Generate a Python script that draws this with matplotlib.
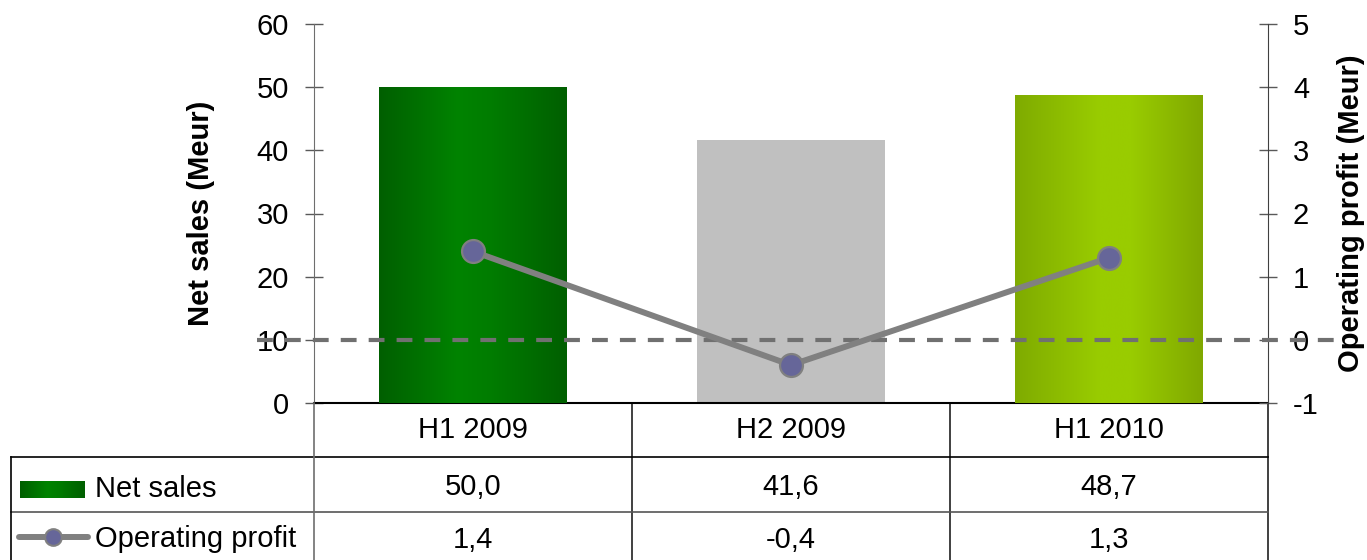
import numpy as np
import matplotlib.pyplot as plt
from matplotlib.colors import LinearSegmentedColormap
from matplotlib.lines import Line2D
from matplotlib.transforms import blended_transform_factory

periods = ['H1 2009', 'H2 2009', 'H1 2010']
net_sales = [50.0, 41.6, 48.7]
op_profit = [1.4, -0.4, 1.3]

plt.rcParams['font.family'] = ['Liberation Sans', 'DejaVu Sans']
plt.rcParams['axes.unicode_minus'] = False

W, H = 1367, 560
fig = plt.figure(figsize=(W / 100, H / 100), dpi=100)


def fx(px):
    return px / W


def fy(py):
    return 1 - py / H


def fmt(v):
    return f'{v:.1f}'.replace('.', ',')


ax = fig.add_axes([fx(314), fy(403), fx(1268) - fx(314), fy(24) - fy(403)])
ax2 = ax.twinx()

x = np.arange(len(periods))
bars = ax.bar(x, net_sales, width=0.59, color='#c0c0c0', zorder=2)

# horizontal shading for the two coloured bars
green = LinearSegmentedColormap.from_list(
    'green', [(0, '#005f00'), (0.42, '#008300'), (0.6, '#007c00'), (1, '#005f00')])
lime = LinearSegmentedColormap.from_list(
    'lime', [(0, '#7fab00'), (0.45, '#99cc00'), (0.62, '#99cc00'), (1, '#80a800')])
ramp = np.linspace(0, 1, 256).reshape(1, -1)
for bar, cmap in zip(bars, [green, None, lime]):
    if cmap is None:
        continue
    bx, by = bar.get_x(), bar.get_y()
    bw, bh = bar.get_width(), bar.get_height()
    im = ax.imshow(ramp, cmap=cmap, aspect='auto',
                   extent=[bx, bx + bw, by, by + bh], zorder=3)
    im.set_clip_path(bar)

ax.set_xlim(-0.5, 2.5)
ax.set_ylim(0, 60)
ax2.set_ylim(-1, 5)
ax.set_yticks(range(0, 61, 10))
ax2.set_yticks(range(-1, 6))
ax.set_xticks([])
ax2.set_xticks([])

for a in (ax, ax2):
    a.tick_params(axis='y', direction='inout', length=13, width=1,
                  pad=11.5, labelsize=21, color='#595959')
ax.spines['top'].set_visible(False)
ax.spines['right'].set_visible(False)
ax.spines['left'].set_color('#6e6e6e')
ax.spines['bottom'].set_color('black')
ax.spines['bottom'].set_linewidth(1.5)
for s in ('top', 'left', 'bottom'):
    ax2.spines[s].set_visible(False)
ax2.spines['right'].set_color('#404040')

ax.set_ylabel('Net sales (Meur)', fontsize=21, fontweight='bold')
ax.yaxis.set_label_coords(-0.104, 0.5)
ax2.set_ylabel('Operating profit (Meur)', fontsize=21, fontweight='bold', rotation=90)
ax2.yaxis.set_label_coords(1.072, 0.5)

# zero line of operating profit, running past both axes
ax2.axhline(0, xmin=-0.06, xmax=1.072, color='#707070', lw=3,
            dashes=(3.8, 2.9), clip_on=False, zorder=3)
ax2.plot(x, op_profit, color='#808080', lw=4.3, marker='o', ms=16.5,
         mfc='#666699', mec='#808080', mew=1.6, zorder=4, clip_on=False)

# data table under the chart
tr = blended_transform_factory(ax.transData, fig.transFigure)
for i, p in enumerate(periods):
    ax.text(i, fy(438), p, transform=tr, ha='center', va='baseline', fontsize=21)
    ax.text(i, fy(495), fmt(net_sales[i]), transform=tr, ha='center',
            va='baseline', fontsize=21)
    ax.text(i, fy(548), fmt(op_profit[i]), transform=tr, ha='center',
            va='baseline', fontsize=21)

fig.add_artist(Line2D([fx(11), fx(1268)], [fy(457), fy(457)], color='black', lw=1.2))
fig.add_artist(Line2D([fx(11), fx(1268)], [fy(512), fy(512)], color='#555555', lw=1.2))
fig.add_artist(Line2D([fx(11), fx(11)], [fy(457), 0], color='black', lw=1.2))
fig.add_artist(Line2D([fx(314), fx(314)], [fy(403), 0], color='#6e6e6e', lw=1.2))
for b in np.append(x[:-1] + 0.5, x[-1] + 0.5):
    ax.add_artist(Line2D([b, b], [fy(403), 0], transform=tr, color='#202020',
                         lw=1.2, clip_on=False))

# legend keys in the table's first column
kax = fig.add_axes([fx(20), fy(498), fx(85) - fx(20), fy(481) - fy(498)])
kax.imshow(ramp, cmap=green, aspect='auto')
kax.axis('off')
fig.add_artist(Line2D([fx(19), fx(88)], [fy(537), fy(537)], color='#808080',
                      lw=4.3, solid_capstyle='round'))
fig.add_artist(Line2D([fx(53)], [fy(537)], marker='o', ms=12, mfc='#666699',
                      mec='#808080', mew=1.5))
fig.text(fx(95), fy(497), 'Net sales', va='baseline', fontsize=21)
fig.text(fx(95), fy(547), 'Operating profit', va='baseline', fontsize=21)

fig.savefig('out.png', dpi=100)
